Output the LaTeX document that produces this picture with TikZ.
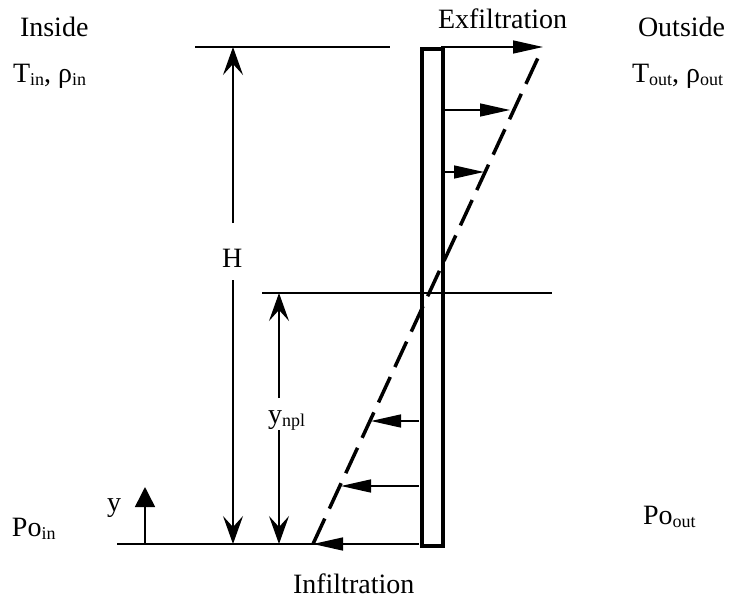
\documentclass[tikz,border=0pt]{standalone}
\usepackage{fontspec}
\setmainfont{Liberation Serif}
\usetikzlibrary{arrows.meta}
\newcommand\lsub[1]{\raisebox{-3pt}{\fontsize{18}{20}\selectfont #1}}
\begin{document}
\begin{tikzpicture}[x=1pt,y=-1pt,
  txt/.style={inner sep=0pt, outer sep=0pt, font=\fontsize{28}{32}\selectfont, anchor=base west},
  thinline/.style={line width=1.5pt},
  wallbox/.style={line width=3.5pt},
  dimarrow/.style={line width=1.5pt, -{Stealth[length=28pt,width=20pt,inset=11pt]}},
  flowarrow/.style={line width=1.5pt, -{Triangle[length=30pt,width=13pt]}},
  yarrow/.style={line width=1.5pt, -{Triangle[length=20pt,width=20pt]}},
  profile/.style={line width=3.5pt, dash pattern=on 28pt off 11pt}
]
\useasboundingbox (0,0) rectangle (731,600);

% reference lines
\coordinate (topL) at (195,47);
\coordinate (topR) at (390,47);
\coordinate (midL) at (262,293);
\coordinate (midR) at (552,293);
\coordinate (botL) at (117,544);
\coordinate (botR) at (400,544);
\draw[thinline] (topL) -- (topR);
\draw[thinline] (midL) -- (midR);
\draw[thinline] (botL) -- (botR);

% wall
\node[wallbox, draw, minimum width=21pt, minimum height=497pt, inner sep=0pt, anchor=north west] (wall) at (420,47) {};

% pressure profile (dashed)
\coordinate (profB) at (313,544);
\coordinate (profT) at (537.7,58.4);
\draw[profile] (profB) -- (profT);

% flow arrows
\coordinate (e1s) at (441,47);  \coordinate (e1t) at (543,47);
\coordinate (e2s) at (441,110); \coordinate (e2t) at (510,110);
\coordinate (e3s) at (441,172); \coordinate (e3t) at (484,172);
\coordinate (i1s) at (419,421); \coordinate (i1t) at (371,421);
\coordinate (i2s) at (419,486); \coordinate (i2t) at (341,486);
\coordinate (i3s) at (419,544); \coordinate (i3t) at (313,544);
\draw[flowarrow] (e1s) -- (e1t);
\draw[flowarrow] (e2s) -- (e2t);
\draw[flowarrow] (e3s) -- (e3t);
\draw[flowarrow] (i1s) -- (i1t);
\draw[flowarrow] (i2s) -- (i2t);
\draw[flowarrow] (i3s) -- (i3t);

% H dimension
\node[txt] (H) at (222,267) {H};
\coordinate (Htop) at (233,47);
\coordinate (Hgapt) at (233,223);
\coordinate (Hgapb) at (233,280);
\coordinate (Hbot) at (233,544);
\draw[dimarrow] (Hgapt) -- (Htop);
\draw[dimarrow] (Hgapb) -- (Hbot);

% ynpl dimension
\node[txt] (ynpl) at (268,423) {y\lsub{npl}};
\coordinate (Ytop) at (279,293);
\coordinate (Ygapt) at (279,398);
\coordinate (Ygapb) at (279,430);
\coordinate (Ybot) at (279,544);
\draw[dimarrow] (Ygapt) -- (Ytop);
\draw[dimarrow] (Ygapb) -- (Ybot);

% y axis arrow
\coordinate (ya) at (145,544);
\coordinate (yb) at (145,487);
\draw[yarrow] (ya) -- (yb);
\node[txt] (ylab) at (107,511) {y};

% labels
\node[txt] (inside) at (20,36) {Inside};
\node[txt] (tin) at (13,82) {T\lsub{in}, ρ\lsub{in}};
\node[txt] (outside) at (638,36) {Outside};
\node[txt] (tout) at (632,82) {T\lsub{out}, ρ\lsub{out}};
\node[txt] (exf) at (438,28) {Exfiltration};
\node[txt] (inf) at (293,593) {Infiltration};
\node[txt] (poin) at (12,536) {Po\lsub{in}};
\node[txt] (poout) at (643,524) {Po\lsub{out}};
\end{tikzpicture}
\end{document}
